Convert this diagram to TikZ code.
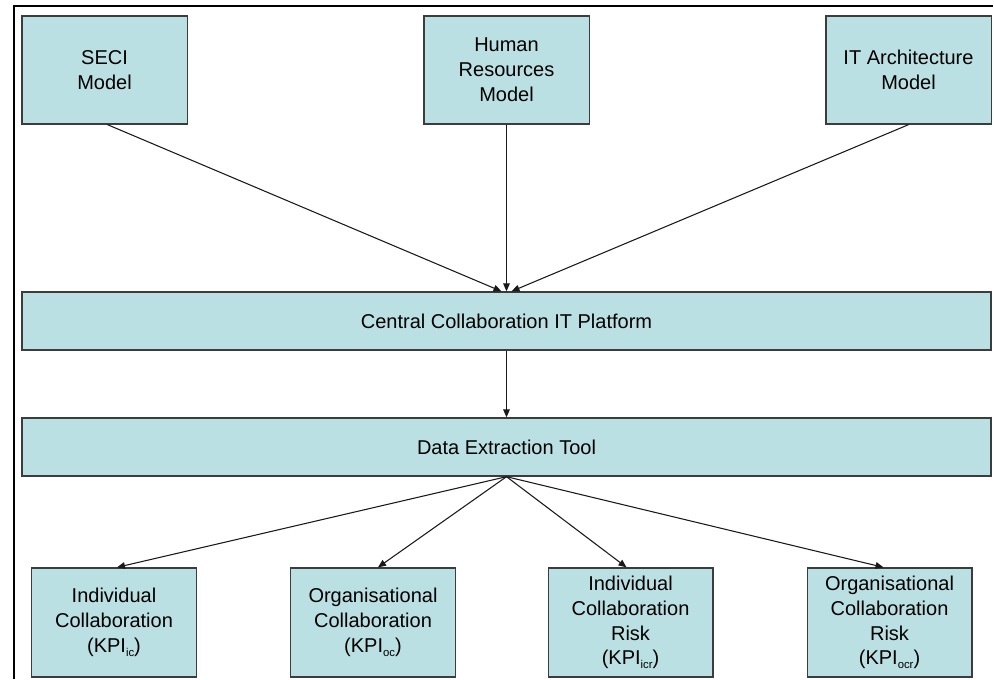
\documentclass[tikz,border=0pt]{standalone}
\usepackage{fontspec}
\setmainfont{Liberation Sans}
\usetikzlibrary{arrows.meta,calc}
\definecolor{boxfill}{RGB}{187,224,227}
\definecolor{boxline}{RGB}{60,60,60}
\newcommand\kpisub[1]{\raisebox{-0.35ex}{\fontsize{8.5}{8.5}\selectfont #1}}
\tikzset{
  model/.style={draw=boxline, line width=1pt, fill=boxfill, inner sep=0pt,
    align=center, font=\fontsize{15}{18.6}\selectfont},
  topbox/.style={model, minimum width=124pt, minimum height=81pt},
  bar/.style={model, minimum width=726.75pt, minimum height=43.5pt},
  kpibox/.style={model, minimum width=123.5pt, minimum height=81.75pt},
  link/.style={draw=black!90, line width=0.8pt, -{Triangle[length=6pt,width=5pt]}},
  frame/.style={draw=black, line width=1.6pt}
}
\begin{document}
\begin{tikzpicture}[x=0.75pt, y=-0.75pt]
  \useasboundingbox (0,0) rectangle (994,679);
  % cropped outer frame
  \draw[frame] (14,679) -- (14,6) -- (993,6);

  % source models
  \node[topbox] (seci) at (104.5,70) {SECI\\Model};
  \node[topbox] (hr)   at (506.5,70) {Human\\Resources\\Model};
  \node[topbox] (ita)  at (908.5,70) {IT Architecture\\Model};

  % platform and extraction bars
  \node[bar] (central) at (506.5,321) {Central Collaboration IT Platform};
  \node[bar] (extract) at (506.5,447) {Data Extraction Tool};

  % KPI boxes
  \node[kpibox] (kic)  at (114,622.5) {Individual\\Collaboration\\(KPI\kpisub{ic})};
  \node[kpibox] (koc)  at (373,622.5) {Organisational\\Collaboration\\(KPI\kpisub{oc})};
  \node[kpibox] (kicr) at (630.5,622.5) {Individual\\Collaboration\\Risk\\(KPI\kpisub{icr})};
  \node[kpibox] (kocr) at (889.5,622.5) {Organisational\\Collaboration\\Risk\\(KPI\kpisub{ocr})};

  % connectors
  \draw[link] ($(seci.south)+(3,0)$) -- ($(central.north)+(-5,0)$);
  \draw[link] (hr.south) -- (central.north);
  \draw[link] (ita.south) -- ($(central.north)+(5,0)$);
  \draw[link] (central.south) -- (extract.north);
  \draw[link] (extract.south) -- ($(kic.north)+(3,0)$);
  \draw[link] (extract.south) -- ($(koc.north)+(5,0)$);
  \draw[link] (extract.south) -- ($(kicr.north)+(-4,0)$);
  \draw[link] (extract.south) -- ($(kocr.north)+(-6,0)$);
\end{tikzpicture}
\end{document}
